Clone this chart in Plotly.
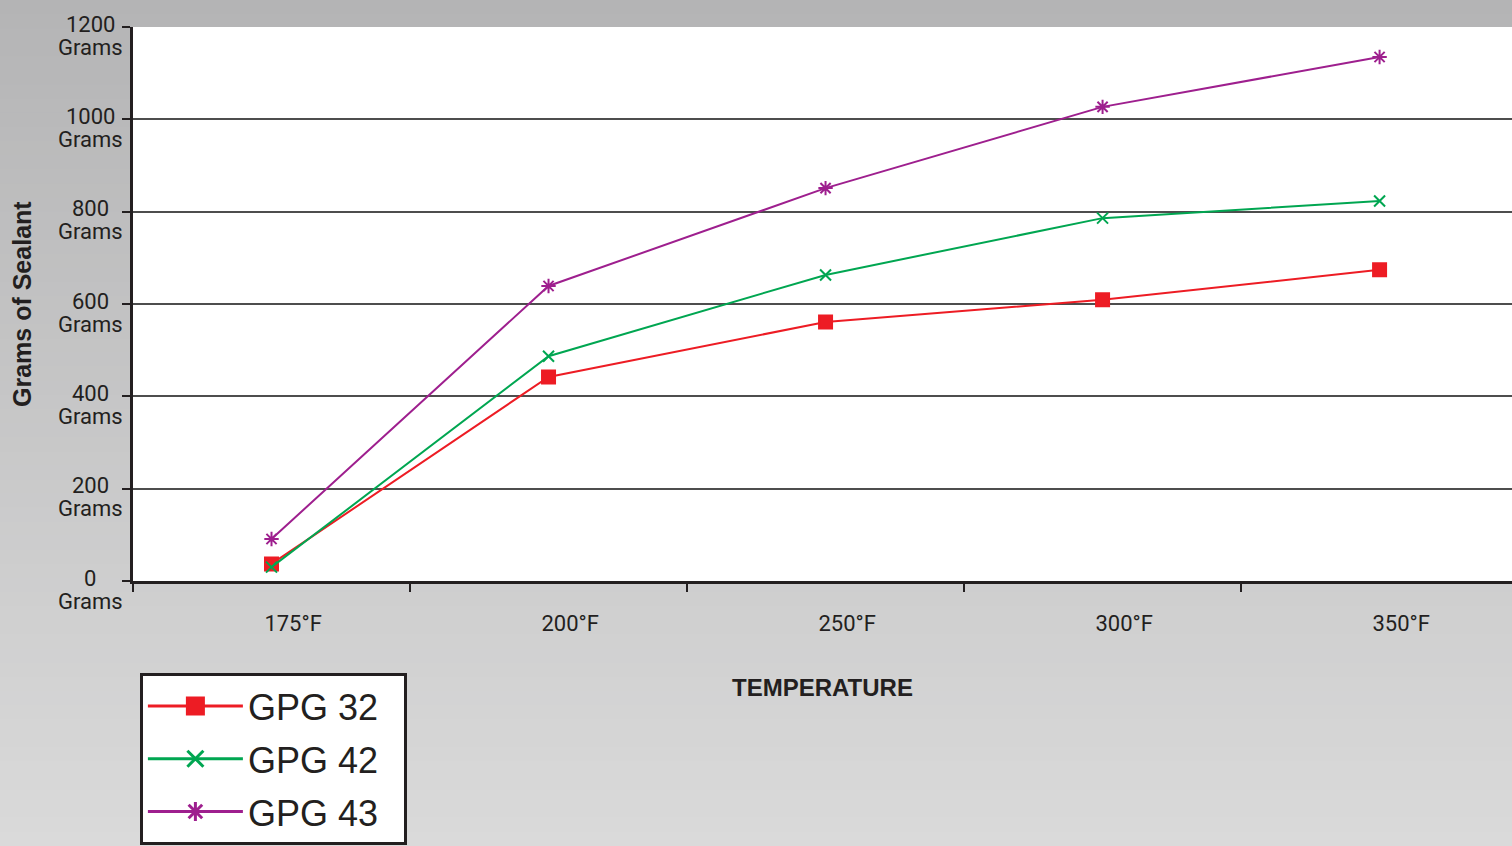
import plotly.graph_objects as go

categories = ["175°F", "200°F", "250°F", "300°F", "350°F"]
gpg32 = [37, 442, 561, 609, 674]
gpg42 = [30, 487, 663, 786, 823]
gpg43 = [91, 639, 851, 1027, 1135]
y_ticks = [0, 200, 400, 600, 800, 1000, 1200]
y_tick_numbers = [str(v) for v in y_ticks]
y_unit = "Grams"

series = [
    ("GPG 32", gpg32, "#ed1c24", "square", 13, 21),
    ("GPG 42", gpg42, "#00a651", "x-thin-open", 11, 17),
    ("GPG 43", gpg43, "#9e1f8e", "asterisk-open", 12, 18),
]

TXT = "#231f20"
TICKFONT = "Roboto"

xs = list(range(len(categories)))
fig = go.Figure()
for name, vals, color, sym, msz, lsz in series:
    fig.add_trace(go.Scatter(
        x=xs, y=vals, mode="lines+markers", name=name, showlegend=False,
        line=dict(color=color, width=2),
        marker=dict(symbol=sym, size=msz, color=color, line=dict(color=color, width=2)),
    ))
for name, vals, color, sym, msz, lsz in series:
    fig.add_trace(go.Scatter(
        x=[None], y=[None], mode="lines+markers", name=name + "\u00a0\u00a0", legendgroup=name,
        line=dict(color=color, width=3),
        marker=dict(symbol=sym, size=lsz, color=color, line=dict(color=color, width=3)),
    ))

# background gradient
shapes = []
n = 60
top = (0xb4, 0xb4, 0xb5)
bot = (0xda, 0xda, 0xda)
H = 846.0
plot_h = 554.0
for k in range(n):
    t = (k + 0.5) / n
    c = tuple(int(round(top[j] + (bot[j] - top[j]) * t)) for j in range(3))
    py0 = k * H / n
    py1 = (k + 1) * H / n + 1
    y1 = (581 - py0) / plot_h
    y0 = (581 - py1) / plot_h
    shapes.append(dict(type="rect", xref="paper", yref="paper", x0=-0.2, x1=1.1,
                       y0=y0, y1=y1, fillcolor="rgb(%d,%d,%d)" % c, line=dict(width=0),
                       layer="below"))
shapes.append(dict(type="rect", xref="paper", yref="paper", x0=0, x1=1, y0=0, y1=1,
                   fillcolor="white", line=dict(width=0), layer="below"))

annotations = []
lab_x = (90 - 133) / 1379
for v, lab in zip(y_ticks, y_tick_numbers):
    annotations.append(dict(x=lab_x, xref="paper", y=v, yref="y", text=lab, showarrow=False,
                            xanchor="center", yanchor="middle", yshift=3,
                            font=dict(family=TICKFONT, size=22, color=TXT)))
    annotations.append(dict(x=lab_x, xref="paper", y=v, yref="y", text=y_unit, showarrow=False,
                            xanchor="center", yanchor="middle", yshift=-20,
                            font=dict(family=TICKFONT, size=22, color=TXT)))
annotations.append(dict(x=-(133 - 22) / 1379, xref="paper", y=0.5, yref="paper",
                        text="<b>Grams of Sealant</b>", textangle=-90, showarrow=False,
                        xanchor="center", yanchor="middle",
                        font=dict(family="Liberation Sans", size=25, color=TXT)))

fig.update_layout(
    width=1512, height=846,
    margin=dict(l=133, r=0, t=27, b=265),
    paper_bgcolor="#cccccc", plot_bgcolor="white",
    shapes=shapes, annotations=annotations,
    showlegend=True,
    legend=dict(x=0.005, y=-92 / 554, xanchor="left", yanchor="top",
                bgcolor="white", bordercolor=TXT, borderwidth=3,
                font=dict(family="Liberation Sans", size=36, color=TXT),
                itemwidth=95, tracegroupgap=3, itemsizing="trace"),
    xaxis=dict(range=[-0.5, len(categories) - 0.522], showgrid=False, zeroline=False,
               tickvals=[x + 0.078 for x in xs], ticktext=categories, ticks="",
               ticklabelstandoff=21,
               tickfont=dict(family=TICKFONT, size=22, color=TXT),
               minor=dict(tick0=-0.5, dtick=1, ticks="outside", ticklen=8, tickwidth=2,
                          tickcolor=TXT, showgrid=False),
               showline=True, linecolor=TXT, linewidth=3,
               title=dict(text="<b>TEMPERATURE</b>", standoff=44,
                          font=dict(family="Liberation Sans", size=24, color=TXT))),
    yaxis=dict(range=[0, 1200], tickvals=y_ticks, showticklabels=False,
               ticks="outside", ticklen=8, tickwidth=2, tickcolor=TXT,
               showgrid=True, gridcolor="#4d4d4d", gridwidth=1.5, zeroline=False,
               showline=True, linecolor=TXT, linewidth=3),
)

fig.write_html("out.html", config={"displayModeBar": False},
               post_script="document.body.style.margin='0';document.body.style.overflow='hidden';")
